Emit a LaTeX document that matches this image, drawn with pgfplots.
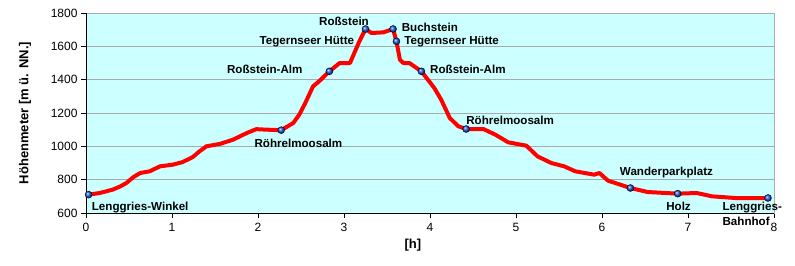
\documentclass[border=0pt]{standalone}
\usepackage{pgfplots}
\pgfplotsset{compat=1.18}
\usepackage{fontspec}
\setmainfont{Liberation Sans}
\definecolor{bgc}{RGB}{204,255,255}
\definecolor{gridc}{RGB}{170,170,170}
\definecolor{markc}{RGB}{30,90,230}
\tikzset{lbl/.style={font=\fontsize{11.6}{13.5}\selectfont\bfseries, inner sep=0pt}}
\begin{document}
\begin{tikzpicture}
\begin{axis}[
  name=ax,
  scale only axis, width=688pt, height=200pt,
  xmin=0, xmax=8, ymin=600, ymax=1800,
  xtick={0,...,8}, ytick={600,800,...,1800},
  ymajorgrids, grid style={gridc, line width=0.8pt},
  axis line style={gridc, line width=0.8pt},
  axis background/.style={fill=bgc},
  tick align=outside, xtick pos=left, ytick pos=left,
  major tick length=5pt, tick style={black, line width=0.6pt},
  /pgf/number format/assume math mode=true,
  /pgf/number format/1000 sep={},
  tick label style={font=\fontsize{12}{14}\selectfont},
  xticklabel style={yshift=-2pt},
  ylabel={Höhenmeter [m ü. NN.]},
  ylabel style={font=\fontsize{13}{15}\selectfont\bfseries, at={(axis description cs:0,0.5)}, anchor=center, yshift=61pt},
  xlabel={[h]},
  xlabel style={font=\fontsize{13}{15}\selectfont\bfseries, at={(axis description cs:0.475,0)}, anchor=center, yshift=-32pt},
  clip=false,
]
\draw[black, line width=0.8pt] (rel axis cs:0,1) -- (rel axis cs:0,0) -- (rel axis cs:1,0);
\addplot[red, line width=4pt, line join=round, line cap=round] coordinates {
(0.03,710) (0.16,720) (0.31,740) (0.40,760) (0.47,780) (0.55,815) (0.63,840)
(0.74,850) (0.86,880) (1.01,890) (1.12,905) (1.24,935) (1.32,970) (1.40,1000)
(1.56,1015) (1.71,1040) (1.87,1080) (1.98,1103) (2.10,1100) (2.27,1097)
(2.41,1140) (2.48,1190) (2.55,1260) (2.64,1360) (2.71,1390) (2.83,1450) (2.95,1500) (3.07,1500)
(3.17,1620) (3.25,1704) (3.32,1680) (3.46,1684) (3.57,1704) (3.61,1630)
(3.65,1520) (3.69,1500) (3.76,1500) (3.90,1450) (4.05,1350) (4.13,1280)
(4.23,1170) (4.33,1120) (4.42,1104) (4.62,1104) (4.76,1070) (4.91,1024)
(5.12,1004) (5.25,940) (5.41,900) (5.56,880) (5.69,850) (5.91,830) (5.97,840)
(6.07,794) (6.33,750) (6.53,726) (6.88,716) (7.10,720) (7.28,700) (7.55,690) (7.93,690)
};
\addplot[only marks, mark=ball, mark size=3.5pt, mark options={ball color=markc}] coordinates {
(0.03,710) (2.27,1097) (2.83,1450) (3.25,1704) (3.57,1704) (3.61,1630)
(3.90,1450) (4.42,1104) (6.33,750) (6.88,716) (7.93,690)
};
\node[lbl, anchor=west] at (axis cs:0.066,632) {Lenggries-Winkel};
\node[lbl, anchor=center] at (axis cs:2.47,1016) {Röhrelmoosalm};
\node[lbl, anchor=east] at (axis cs:2.52,1460) {Roßstein-Alm};
\node[lbl, anchor=east] at (axis cs:3.12,1628) {Tegernseer Hütte};
\node[lbl, anchor=center] at (axis cs:3.0,1748) {Roßstein};
\node[lbl, anchor=west] at (axis cs:3.67,1712) {Buchstein};
\node[lbl, anchor=west] at (axis cs:3.70,1628) {Tegernseer Hütte};
\node[lbl, anchor=west] at (axis cs:4.00,1460) {Roßstein-Alm};
\node[lbl, anchor=west] at (axis cs:4.42,1154) {Röhrelmoosalm};
\node[lbl, anchor=center] at (axis cs:6.75,842) {Wanderparkplatz};
\node[lbl, anchor=center] at (axis cs:6.89,638) {Holz};
\node[lbl, anchor=west] at (axis cs:7.40,632) {Lenggries-};
\node[lbl, anchor=west] at (axis cs:7.40,548) {Bahnhof};
\end{axis}
\pgfresetboundingbox
\path ([shift={(-86pt,-52pt)}]ax.south west) rectangle ([shift={(21pt,13pt)}]ax.north east);
\end{tikzpicture}
\end{document}
